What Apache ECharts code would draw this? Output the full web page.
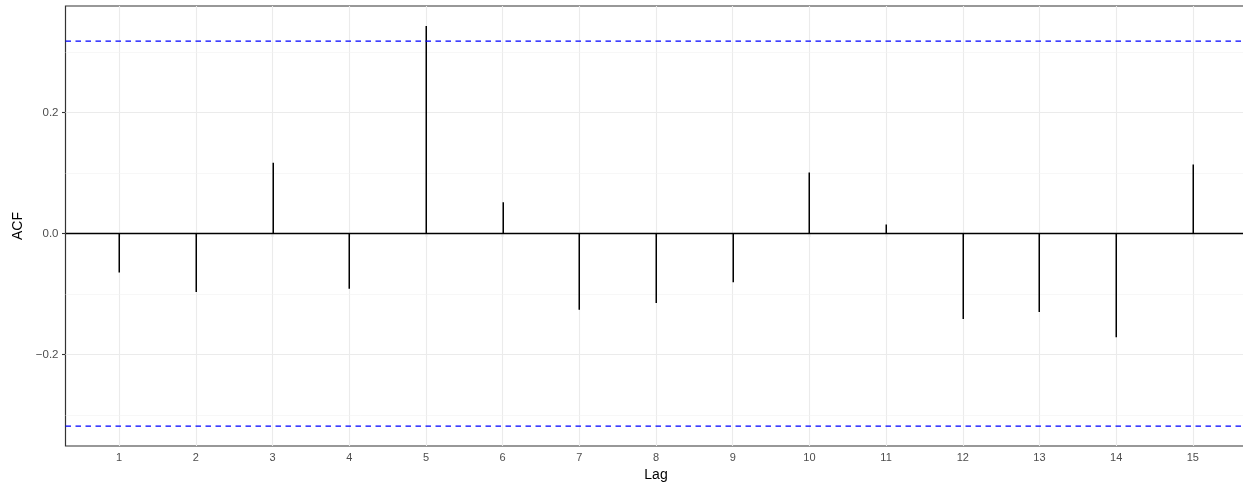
<!DOCTYPE html>
<html>
<head>
<meta charset="utf-8">
<title>ACF</title>
<script src="https://cdn.jsdelivr.net/npm/echarts@6/dist/echarts.min.js"></script>
<style>
html, body { margin: 0; padding: 0; background: #fff; }
#main { width: 1243px; height: 486px; }
</style>
</head>
<body>
<div id="main"></div>
<script>
// acf values
var lags = [1, 2, 3, 4, 5, 6, 7, 8, 9, 10, 11, 12, 13, 14, 15];
var acf = [-0.0645, -0.0965, 0.117, -0.091, 0.343, 0.0517, -0.126, -0.1147, -0.0805, 0.101, 0.015, -0.141, -0.1295, -0.1714, 0.114];
var ci = 0.318;
var yTicks = [-0.2, 0, 0.2];
var yMinor = [-0.3, -0.1, 0.1, 0.3];

var font = "Liberation Sans";
var xMin = 0.3, xMax = 15.7;
var chart = echarts.init(document.getElementById('main'), null, {renderer: 'canvas'});

var gridLines = [];
for (var i = 0; i < lags.length; i++) {
    gridLines.push({xAxis: lags[i], lineStyle: {color: '#EBEBEB', width: 1.1, type: 'solid'}});
}
for (var i = 0; i < yTicks.length; i++) {
    gridLines.push({yAxis: yTicks[i], lineStyle: {color: '#EBEBEB', width: 1.1, type: 'solid'}});
}
for (var i = 0; i < yMinor.length; i++) {
    gridLines.push({yAxis: yMinor[i], lineStyle: {color: '#F2F2F2', width: 0.6, type: 'solid'}});
}

var spikes = [];
for (var i = 0; i < lags.length; i++) {
    spikes.push([lags[i], acf[i]]);
}

function hline(y, color, width, dash, z) {
    return {
        type: 'line', data: [[xMin, y], [xMax, y]], silent: true, z: z,
        symbol: 'none', showSymbol: false,
        lineStyle: {color: color, width: width, type: dash},
        itemStyle: {color: color}
    };
}

var option = {
    animation: false,
    grid: {
        left: 65.5, top: 6, width: 1181, bottom: 40, outerBoundsMode: 'none',
        show: true, borderColor: '#333333', borderWidth: 1.2, backgroundColor: '#fff'
    },
    xAxis: {
        type: 'value', min: xMin, max: xMax,
        name: 'Lag', nameLocation: 'middle', nameGap: 18,
        nameTextStyle: {fontFamily: font, fontSize: 14, color: '#000'},
        axisLine: {show: false},
        axisTick: {show: true, length: 3.5, customValues: lags, lineStyle: {color: '#333', width: 1.1}},
        axisLabel: {customValues: lags, fontFamily: font, fontSize: 11, color: '#4D4D4D', margin: 6},
        splitLine: {show: false}
    },
    yAxis: {
        type: 'value', min: -0.351, max: 0.376,
        name: 'ACF', nameLocation: 'middle', nameGap: 40,
        nameTextStyle: {fontFamily: font, fontSize: 14, color: '#000'},
        axisLine: {show: false},
        axisTick: {show: true, length: 3.5, customValues: yTicks, lineStyle: {color: '#333', width: 1.1}},
        axisLabel: {customValues: yTicks, fontFamily: font, fontSize: 11.5, color: '#4D4D4D', margin: 7,
            formatter: function (v) { return v.toFixed(1).replace('-', '\u2212'); }},
        splitLine: {show: false}
    },
    series: [
        {
            type: 'line', data: [], silent: true, z: 1,
            markLine: {silent: true, symbol: 'none', label: {show: false}, data: gridLines, animation: false}
        },
        {
            type: 'custom', data: spikes, z: 5, silent: true,
            renderItem: function (params, api) {
                var p0 = api.coord([api.value(0), 0]);
                var p1 = api.coord([api.value(0), api.value(1)]);
                var x = Math.round(p0[0]) + 0.25;
                return {
                    type: 'line',
                    shape: {x1: x, y1: p0[1], x2: x, y2: p1[1]},
                    style: {stroke: '#000', lineWidth: 1.5}
                };
            }
        },
        hline(0, '#000000', 1.5, 'solid', 6),
        hline(ci, '#0000FF', 1.2, [5.5, 4.5], 7),
        hline(-ci, '#0000FF', 1.2, [5.5, 4.5], 7)
    ]
};
chart.setOption(option);
</script>
</body>
</html>
